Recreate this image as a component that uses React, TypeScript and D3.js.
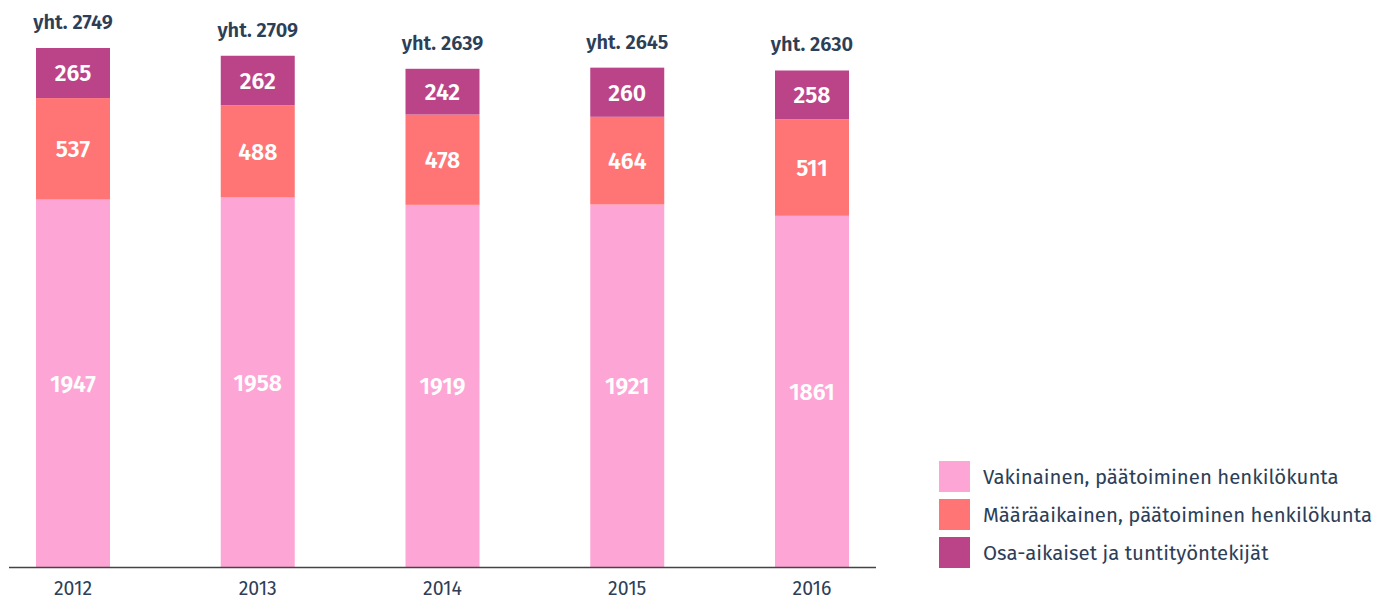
import React from "react";
import * as d3 from "d3";

const years = ["2012", "2013", "2014", "2015", "2016"];
const vakinainen = [1947, 1958, 1919, 1921, 1861];
const maaraaikainen = [537, 488, 478, 464, 511];
const osaaikaiset = [265, 262, 242, 260, 258];
const totals = [2749, 2709, 2639, 2645, 2630];
const seriesNames = [
  "Vakinainen, päätoiminen henkilökunta",
  "Määräaikainen, päätoiminen henkilökunta",
  "Osa-aikaiset ja tuntityöntekijät",
];
const colors = ["#fda6d6", "#ff7575", "#bb4489"];

const W = 1376;
const H = 597;
const FONT = "'Fira Sans', 'Noto Sans', 'Open Sans', sans-serif";
const TEXT = "#2d3e57";

export default function App() {
  const baseline = 567.5;
  const x = d3
    .scalePoint<string>()
    .domain(years)
    .range([73, 812]);
  const bw = 74;
  const y = d3.scaleLinear().domain([0, 3003]).range([baseline, 0]);

  const rows = years.map((yr, i) => ({
    year: yr,
    v: vakinainen[i],
    m: maaraaikainen[i],
    o: osaaikaiset[i],
  }));
  const stack = d3.stack<any>().keys(["v", "m", "o"])(rows);

  return (
    <svg width={W} height={H} style={{ position: "absolute", left: 0, top: 0 }} fontFamily={FONT}>
      {stack.map((layer, li) =>
        layer.map((d, i) => {
          const y0 = y(d[0]);
          const y1 = y(d[1]);
          const val = d[1] - d[0];
          const cx = x(years[i]) as number;
          return (
            <g key={`${li}-${i}`}>
              <rect x={cx - bw / 2} y={y1} width={bw} height={y0 - y1} fill={colors[li]} />
              <text
                x={cx}
                y={(y0 + y1) / 2}
                dy="0.36em"
                textAnchor="middle"
                fill="#fff"
                fontSize={23}
                fontWeight={600}
              >
                {val}
              </text>
            </g>
          );
        })
      )}
      {totals.map((t, i) => (
        <text
          key={`t${i}`}
          x={x(years[i]) as number}
          y={y(t) - 19}
          textAnchor="middle"
          fill={TEXT}
          fontSize={20}
          fontWeight={600}
        >
          {`yht. ${t}`}
        </text>
      ))}
      <line x1={9} x2={876} y1={baseline} y2={baseline} stroke="#444" strokeWidth={1.3} />
      {years.map((yr) => (
        <text key={yr} x={x(yr) as number} y={595} textAnchor="middle" fill={TEXT} fontSize={19.5}>
          {yr}
        </text>
      ))}
      {seriesNames.map((n, i) => (
        <g key={n} transform={`translate(939, ${461 + i * 38})`}>
          <rect width={31} height={31} fill={colors[i]} />
          <text x={44} y={15.5} dy="0.36em" fill={TEXT} fontSize={20.4}>
            {n}
          </text>
        </g>
      ))}
    </svg>
  );
}
